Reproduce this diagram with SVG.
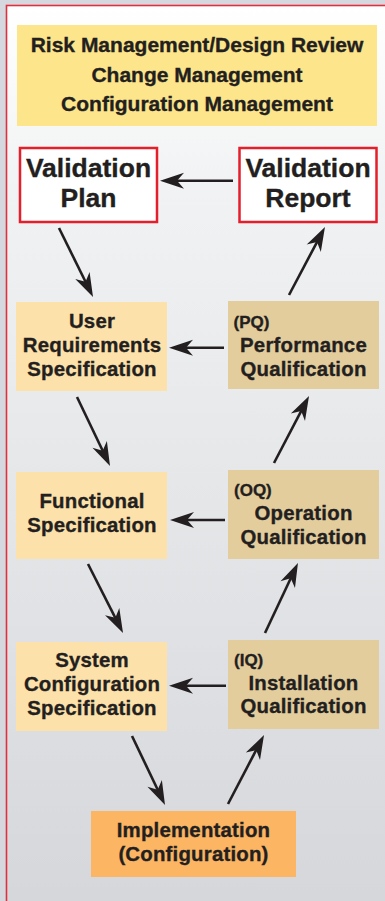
<svg xmlns="http://www.w3.org/2000/svg" width="385" height="901" viewBox="0 0 385 901">
<defs>
<linearGradient id="bg" x1="0" y1="0" x2="0" y2="1">
<stop offset="0" stop-color="#ffffff"/>
<stop offset="0.2" stop-color="#f1f2f3"/>
<stop offset="1" stop-color="#d5d6da"/>
</linearGradient>
<marker id="ah" markerUnits="userSpaceOnUse" viewBox="-25 -9 26 18" refX="-10" refY="0" markerWidth="26" markerHeight="18" orient="auto">
<path d="M0,0 L-24,-8 L-17,0 L-24,8 Z" fill="#231f20"/>
</marker>
<style>
text{font-family:"Liberation Sans",Arial,Helvetica,sans-serif;font-weight:bold;fill:#231f20;stroke:#231f20;stroke-width:0.35px;}
.hd{font-size:21px;text-anchor:middle;}
.vt{font-size:26.5px;text-anchor:middle;}
.bt{font-size:20.4px;text-anchor:middle;letter-spacing:0.2px;}
.sm{font-size:17px;}
.red{fill:#ffffff;stroke:#e41e2b;stroke-width:2.5;}
.peach{fill:#fde1aa;}
.tan{fill:#e3cd9d;}
.conn line{stroke:#231f20;stroke-width:2.6;marker-end:url(#ah);}
</style>
</defs>
<rect x="0" y="0" width="385" height="901" fill="#d5d8de"/>
<rect x="6.5" y="5.5" width="400" height="920" fill="url(#bg)" stroke="#e0303e" stroke-width="1.6"/>
<g id="header">
<rect x="17" y="25" width="360" height="101" fill="#fce58a"/>
<text class="hd" x="197" y="52">Risk Management/Design Review</text>
<text class="hd" x="197" y="81.5">Change Management</text>
<text class="hd" x="197" y="111">Configuration Management</text>
</g>
<g id="validation-plan">
<rect class="red" x="20" y="148" width="137" height="74"/>
<text class="vt" x="88.5" y="177">Validation</text>
<text class="vt" x="88.5" y="207">Plan</text>
</g>
<g id="validation-report">
<rect class="red" x="239.5" y="148" width="137" height="74"/>
<text class="vt" x="308" y="177">Validation</text>
<text class="vt" x="308" y="207">Report</text>
</g>
<g id="urs">
<rect class="peach" x="16" y="302" width="151" height="89"/>
<text class="bt" x="92" y="327.5">User</text>
<text class="bt" x="92" y="351.7">Requirements</text>
<text class="bt" x="92" y="376">Specification</text>
</g>
<g id="pq">
<rect class="tan" x="228" y="301" width="151" height="88"/>
<text class="sm" x="233.5" y="327.5">(PQ)</text>
<text class="bt" x="303.5" y="351.7">Performance</text>
<text class="bt" x="303.5" y="376">Qualification</text>
</g>
<g id="fs">
<rect class="peach" x="16" y="472" width="151" height="87"/>
<text class="bt" x="92" y="508">Functional</text>
<text class="bt" x="92" y="532">Specification</text>
</g>
<g id="oq">
<rect class="tan" x="228" y="470" width="151" height="89"/>
<text class="sm" x="234" y="496">(OQ)</text>
<text class="bt" x="303.5" y="520">Operation</text>
<text class="bt" x="303.5" y="543.5">Qualification</text>
</g>
<g id="scs">
<rect class="peach" x="16" y="642" width="151" height="89"/>
<text class="bt" x="92" y="667">System</text>
<text class="bt" x="92" y="691">Configuration</text>
<text class="bt" x="92" y="715">Specification</text>
</g>
<g id="iq">
<rect class="tan" x="228" y="640" width="151" height="89"/>
<text class="sm" x="234" y="666">(IQ)</text>
<text class="bt" x="303.5" y="690">Installation</text>
<text class="bt" x="303.5" y="713">Qualification</text>
</g>
<g id="implementation">
<rect x="91" y="811" width="205" height="66" fill="#fbb563"/>
<text class="bt" x="193.5" y="837">Implementation</text>
<text class="bt" x="193.5" y="861">(Configuration)</text>
</g>
<g id="connectors" class="conn">
<line x1="233" y1="180.7" x2="170" y2="180.7"/>
<line x1="59" y1="228" x2="88.6" y2="288"/>
<line x1="289" y1="295" x2="320.3" y2="235.8"/>
<line x1="224" y1="347.7" x2="179" y2="347.7"/>
<line x1="77" y1="397" x2="105.7" y2="457"/>
<line x1="274" y1="463" x2="304.4" y2="404.9"/>
<line x1="225" y1="520" x2="180" y2="520"/>
<line x1="88" y1="564" x2="118.5" y2="624.1"/>
<line x1="265" y1="633" x2="293.7" y2="572"/>
<line x1="226" y1="685.7" x2="179" y2="685.7"/>
<line x1="132" y1="736" x2="160.7" y2="796"/>
<line x1="228" y1="804" x2="259.4" y2="743.9"/>
</g>
</svg>
